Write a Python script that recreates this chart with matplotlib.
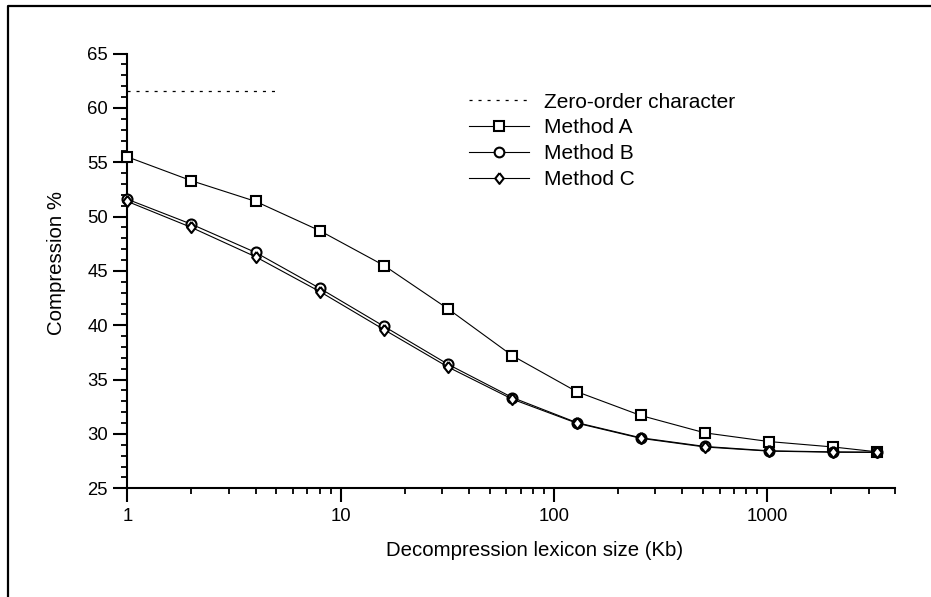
import matplotlib
matplotlib.use("Agg")
import matplotlib.pyplot as plt
from matplotlib.lines import Line2D
from matplotlib.ticker import FixedLocator, NullFormatter

plt.rcParams['font.family'] = ['Liberation Sans', 'DejaVu Sans']
plt.rcParams['lines.scale_dashes'] = False

# ---- data ----
sizes = [1, 2, 4, 8, 16, 32, 64, 128, 256, 512, 1024, 2048, 3300]
method_a = [55.5, 53.3, 51.4, 48.7, 45.5, 41.5, 37.2, 33.9, 31.7, 30.1, 29.3, 28.8, 28.35]
method_b = [51.6, 49.3, 46.7, 43.4, 39.9, 36.4, 33.35, 31.05, 29.65, 28.85, 28.45, 28.35, 28.33]
method_c = [51.4, 49.0, 46.3, 43.1, 39.6, 36.15, 33.2, 31.0, 29.6, 28.8, 28.42, 28.32, 28.3]
zero_order_x = [1, 5]
zero_order_y = [61.6, 61.6]
labels = ["Zero-order character", "Method A", "Method B", "Method C"]
xtick_vals = [1, 10, 100, 1000]
xtick_labels = ["1", "10", "100", "1000"]
ytick_vals = [25, 30, 35, 40, 45, 50, 55, 60, 65]

W, H = 931, 597
fig = plt.figure(figsize=(W / 100, H / 100), dpi=100)
ax_l, ax_r, ax_b, ax_t = 127.3, 895.3, 488.3, 53.6
ax = fig.add_axes([ax_l / W, 1 - ax_b / H, (ax_r - ax_l) / W, (ax_b - ax_t) / H])

diamond = [(0, 1), (0.78, 0), (0, -1), (-0.78, 0), (0, 1)]
mk = dict(color='black', lw=0.8, markerfacecolor='white', markeredgecolor='black',
          markeredgewidth=1.5)

l0, = ax.plot(zero_order_x, zero_order_y, color='black', lw=0.9, dashes=(2.2, 4.3))
la, = ax.plot(sizes, method_a, marker='s', markersize=6.8, zorder=3, clip_on=False, **mk)
lb, = ax.plot(sizes, method_b, marker='o', markersize=7.2, zorder=4, clip_on=False, **mk)
lc, = ax.plot(sizes, method_c, marker=diamond, markersize=8.0, zorder=5, clip_on=False, **mk)

ax.set_xscale('log')
ax.set_xlim(1, 4000)
ax.set_ylim(25, 65)

ax.xaxis.set_major_locator(FixedLocator(xtick_vals))
ax.set_xticklabels(xtick_labels)
minors = [m * 10 ** e for e in range(0, 4) for m in range(2, 10) if m * 10 ** e <= 4000]
ax.xaxis.set_minor_locator(FixedLocator(minors))
ax.xaxis.set_minor_formatter(NullFormatter())

ax.set_yticks(ytick_vals)
ax.set_yticks([v for v in range(25, 66) if v % 5 != 0], minor=True)

for s in ['top', 'right']:
    ax.spines[s].set_visible(False)
for s in ['left', 'bottom']:
    ax.spines[s].set_linewidth(1.5)

ax.tick_params(which='major', direction='out', length=10, width=1.5, labelsize=13.3, pad=4)
ax.tick_params(which='minor', direction='out', length=4, width=1.3)

ax.set_xlabel("Decompression lexicon size (Kb)", fontsize=14.7, va='center')
ax.xaxis.set_label_coords((534.5 - ax_l) / (ax_r - ax_l), (ax_b - 550.5) / (ax_b - ax_t))
ax.set_ylabel("Compression %", fontsize=14.7, va='center')
ax.yaxis.set_label_coords((56.5 - ax_l) / (ax_r - ax_l), (ax_b - 263) / (ax_b - ax_t))

handles = [Line2D([], [], color='black', lw=0.9, dashes=(2.2, 4.3)),
           Line2D([], [], marker='s', markersize=6.8, **mk),
           Line2D([], [], marker='o', markersize=7.0, **mk),
           Line2D([], [], marker=diamond, markersize=7.8, **mk)]
fig.legend(handles, labels, loc='upper left', bbox_to_anchor=(469 / W, 1 - 92.5 / H),
           frameon=False, fontsize=15, handlelength=2.9, handletextpad=0.72,
           labelspacing=0.33, borderpad=0, borderaxespad=0)

# figure frame (top and left edges)
fig.add_artist(Line2D([7.5 / W, 7.5 / W, 1.0], [0.0, 1 - 5.5 / H, 1 - 5.5 / H],
                      transform=fig.transFigure, color='black', lw=1.6))

fig.savefig("out.png", dpi=100)
